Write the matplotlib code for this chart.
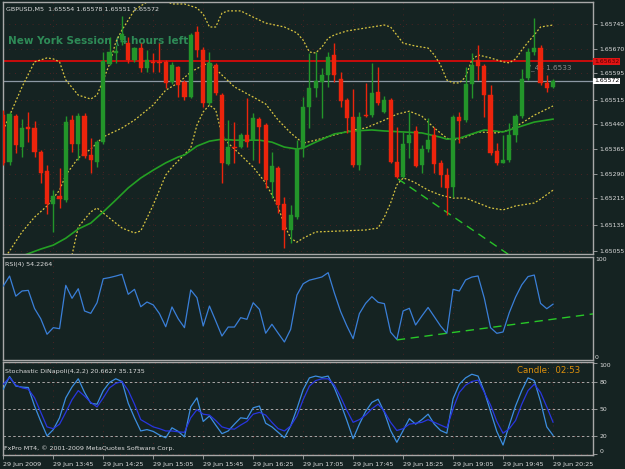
import matplotlib
matplotlib.use('Agg')
import matplotlib.pyplot as plt
import matplotlib.transforms as mtrans
import numpy as np

# ---------------- data (prices in points = 1e-5) ----------------
opens = [165468,165326,165465,165371,165432,165429,165356,165298,165198,165222,
         165210,165453,165380,165465,165347,165326,165386,165623,165657,165696,
         165687,165636,165672,165611,165630,165630,165630,165569,165614,165569,
         165523,165721,165666,165505,165620,165529,165319,165371,165371,165408,
         165392,165456,165438,165265,165307,165198,165119,165158,165368,165493,
         165550,165569,165590,165651,165578,165514,165462,165316,165468,165468,
         165538,165478,165514,165326,165280,165383,165420,165316,165365,165408,
         165323,165286,165250,165462,165453,165563,165636,165617,165529,165359,
         165323,165332,165408,165465,165581,165660,165672,165566,165554]
highs = [165484,165478,165471,165456,165478,165450,165362,165316,165240,165307,
         165465,165468,165474,165474,165398,165392,165660,165706,165681,165769,
         165706,165675,165687,165666,165657,165687,165636,165630,165617,165575,
         165718,165739,165675,165660,165627,165535,165453,165447,165414,165520,
         165474,165462,165444,165356,165313,165219,165195,165392,165523,165657,
         165660,165611,165660,165687,165599,165520,165547,165478,165566,165627,
         165614,165526,165520,165432,165417,165478,165435,165377,165459,165432,
         165332,165307,165468,165478,165614,165657,165681,165623,165560,165383,
         165408,165444,165471,165608,165672,165763,165681,165590,165578]
lows = [165316,165316,165353,165341,165386,165341,165262,165167,165113,165186,
        165204,165356,165332,165338,165292,165310,165380,165620,165627,165681,
        165627,165630,165599,165599,165599,165599,165550,165563,165523,165514,
        165520,165645,165493,165499,165529,165262,165316,165323,165368,165371,
        165332,165323,165247,165216,165170,165064,165079,165152,165341,165429,
        165523,165459,165554,165569,165493,165414,165310,165301,165462,165462,
        165499,165474,165323,165277,165277,165338,165310,165292,165356,165292,
        165250,165164,165219,165383,165447,165520,165575,165462,165347,165316,
        165323,165326,165386,165459,165575,165651,165560,165538,165551]
closes = [165323,165471,165377,165429,165426,165356,165292,165198,165222,165213,
          165447,165380,165465,165344,165332,165386,165633,165660,165663,165715,
          165636,165672,165611,165636,165627,165627,165566,165620,165560,165523,
          165712,165666,165505,165627,165535,165323,165371,165368,165408,165386,
          165459,165432,165271,165313,165195,165119,165164,165365,165493,165550,
          165572,165590,165645,165590,165511,165459,165316,165462,165465,165535,
          165505,165514,165326,165280,165380,165408,165313,165365,165392,165319,
          165286,165247,165462,165450,165563,165620,165617,165529,165353,165323,
          165332,165408,165465,165578,165660,165672,165566,165550,165572]

# Bollinger bands (read at bar positions)
ub_bar = [0,3,5,7,8,9,10,12,14,15,16,17,18,19,20,21,23,25,27,29,31,32,33,34,35,36,38,40,42,45,
          47,48,49,50,51,52,53,55,58,61,62,64,66,68,69,70,71,72,73,74,75,76,78,80,81,82,83,84,85,86,88]
ub = [165423,165554,165630,165642,165639,165630,165575,165529,165517,165529,165575,165623,165690,165727,
      165757,165788,165812,165827,165806,165806,165794,165775,165736,165736,165778,165785,165785,165766,
      165748,165736,165718,165696,165660,165657,165675,165702,165712,165724,165733,165742,165736,165687,
      165678,165672,165651,165620,165575,165566,165566,165584,165636,165651,165642,165630,165627,165639,
      165666,165690,165712,165736,165742]
mb_bar = [0,1,3,5,7,9,10,12,14,16,19,21,24,26,28,30,32,33,35,37,40,42,44,46,47,48,50,53,56,58,61,
          63,65,67,69,71,72,74,76,79,81,83,85,88]
mb = [165030,165055,165113,165158,165192,165240,165286,165338,165365,165402,165429,165453,165499,165544,
      165566,165599,165620,165627,165590,165554,165523,165502,165453,165414,165398,165383,165392,165408,
      165423,165429,165453,165471,165480,165465,165429,165398,165392,165401,165417,165414,165423,165444,
      165468,165496]
lb_bar = [11,12,14,15,17,19,21,22,24,26,27,30,31,32,33,34,35,36,38,40,42,44,45,46,47,48,50,54,58,60,
          61,62,63,64,65,66,68,70,72,74,76,78,80,82,85,86,88]
lb = [165043,165128,165174,165186,165155,165125,165110,165116,165195,165286,165310,165368,165438,165478,
      165499,165484,165408,165383,165347,165310,165262,165189,165134,165094,165082,165094,165113,165116,
      165119,165125,165158,165201,165256,165277,165271,165262,165240,165225,165216,165216,165201,165186,
      165180,165192,165201,165213,165240]
# moving average
ma_bar = [3,6,8,10,12,14,16,18,20,22,24,26,28,29,31,33,35,37,41,43,45,47,48,50,53,56,59,61,64,67,
          70,71,73,75,77,80,82,85,88]
ma = [165040,165061,165073,165094,165122,165140,165174,165210,165247,165277,165301,165323,165341,165347,
      165374,165389,165395,165392,165392,165386,165371,165365,165368,165386,165411,165420,165423,165420,
      165417,165414,165401,165395,165398,165411,165423,165417,165429,165447,165456]
# trendlines
tl_bar = [63.2, 81.0]
tl_price = [165274, 165043]
rsi_tl_bar = [63.0, 94.7]
rsi_tl_val = [19.5, 45.0]

rsi = [71.8,81.5,62,67,67.6,50,40,25,31.4,30.4,
       72.5,59.9,69.2,47.6,45.3,55.6,78.9,80,81.5,83.2,
       63.8,68.6,51.7,56.3,53.5,45,32.3,51.5,40,31.4,
       68,60.5,33,52.4,38,23.3,32,32,41.1,39.5,
       55.6,49.2,26,34.7,26,17.5,29.8,63,74,77.5,
       79,80.6,84.8,65,47,33,20.7,45,55,61.5,
       56,54.7,27,20,47.6,50.2,34,42.7,51,42,
       33,25.9,68.6,67,77.7,80.5,81.6,60,31.4,25.9,
       27.2,46,61,73,81,82.5,55,49.8,54.2]
stoch_k = [71.6,85.5,75,73.8,73.4,53,36,20,27,40,
           62,74,83,68,56,55,70,79,83,80,
           56,40,25.5,27,25,21,18,29,25,19,
           52,62,36,42,32,22.5,25.5,33,40,39,
           51,53,34,30,24,18,31,50,71,84,
           86,84.5,86,73,56,37,17,33,47,57,
           60.5,46,26,13,26,39,33,38,44,33,
           26,23,61,77,84,88,86,69,47,25,
           10,32,53,70,84,81,58,30,20.7]
stoch_d = [77,84.5,76,73,71.6,62,46,30,28,33,
           46,60,70,64,57,52,62,73,78,80,
           70,55,38,34,30,28,25.5,25.5,24.5,24,
           40,49,44,43,37,30,28,27.5,32,36,
           44,46,43,35,28,25.5,31,42,60,75,
           81,83,83,76,63,48,35,38,43,50,
           55,47,35,26,28,33,34,35,38,35,
           32,29,50,68,76,80,81.5,68,54,36,
           23,28,37,55,70,77,68,52,35.2]

price_ticks = [1.65745,1.65670,1.65595,1.65515,1.65440,1.65365,1.65290,1.65215,1.65135,1.65055]
time_tick_bars = [0,8,16,24,32,40,48,56,64,72,80,88]
time_labels = ['29 Jun 2009','29 Jun 13:45','29 Jun 14:25','29 Jun 15:05','29 Jun 15:45',
               '29 Jun 16:25','29 Jun 17:05','29 Jun 17:45','29 Jun 18:25','29 Jun 19:05',
               '29 Jun 19:45','29 Jun 20:25']
red_level = 1.65632
bid = 1.65572

P = 1e-5
o = np.array(opens)*P; h = np.array(highs)*P; l = np.array(lows)*P; c = np.array(closes)*P
idx = np.arange(len(o))

BG = '#152322'
FRAME = '#a8a8a8'
TXT = '#dcdcdc'
GREEN = '#23952a'
RED = '#ec240c'
YEL = '#d8c440'
FS = 4.6
YFS = 4.4

W, H = 625, 469
def box(lft, top, rgt, bot):
    return [lft/W, 1-bot/H, (rgt-lft)/W, (bot-top)/H]

fig = plt.figure(figsize=(6.25, 4.69), dpi=100, facecolor=BG)
ax = fig.add_axes(box(3, 2, 593, 254))
ax_r = fig.add_axes(box(3, 257, 593, 360), sharex=ax)
ax_s = fig.add_axes(box(3, 362, 593, 455), sharex=ax)

for a in (ax, ax_r, ax_s):
    a.set_facecolor(BG)
    for s in a.spines.values():
        s.set_color(FRAME); s.set_linewidth(1.0)
    a.yaxis.tick_right()
    a.tick_params(axis='y', colors=FRAME, labelcolor=TXT, labelsize=YFS, length=3, width=0.6, pad=1.5)
    a.tick_params(axis='x', colors=FRAME, labelcolor=TXT, labelsize=FS, length=3, width=0.6, pad=2)
    a.grid(True, color='#5c2424', linestyle=(0, (1, 6)), linewidth=0.6)
    a.set_axisbelow(True)

ax.set_xlim(-0.05, 94.4)
ax.set_ylim(1.65046, 1.65812)
ax.set_yticks(price_ticks)
ax.set_yticklabels(['%.5f' % v for v in price_ticks])

# ---------------- main chart ----------------
ax.text(0.008, 0.845, 'New York Session (4 hours left)', transform=ax.transAxes,
        color='#2e8b57', fontsize=7.5, fontweight='bold', va='center', ha='left', zorder=1)

ax.axhline(red_level, color='#c80c0c', lw=1.4, zorder=2)
ax.axhline(bid, color='#8c98a4', lw=0.9, zorder=2)

ax.plot(ub_bar, np.array(ub)*P, color=YEL, lw=0.9, ls=(0, (1.5, 1.5)), zorder=2)
ax.plot(mb_bar, np.array(mb)*P, color=YEL, lw=0.9, ls=(0, (1.5, 1.5)), zorder=2)
ax.plot(lb_bar, np.array(lb)*P, color=YEL, lw=0.9, ls=(0, (1.5, 1.5)), zorder=2)
ax.plot(ma_bar, np.array(ma)*P, color='#24a024', lw=1.2, zorder=2)
ax.plot(tl_bar, np.array(tl_price)*P, color='#28c028', lw=1.0, ls=(0, (6, 4)), zorder=2)

ax.text(83.7, 1.65614, 'V_43 1.6533', color='#8a8a8a', fontsize=5.2, va='center', ha='left', zorder=1.5)

up = c >= o
cols = np.where(up, GREEN, RED)
ax.vlines(idx, l, h, colors=cols, lw=1.0, zorder=3)
body_lo = np.minimum(o, c)
body_h = np.maximum(np.abs(c - o), 2e-5)
ax.bar(idx, body_h, bottom=body_lo, width=0.66, color=cols, edgecolor=cols, lw=0.3, zorder=4)

ax.text(0.005, 0.972, 'GBPUSD,M5  1.65554 1.65578 1.65551 1.65572', transform=ax.transAxes,
        color=TXT, fontsize=FS, va='center', ha='left', zorder=6)

btr = mtrans.blended_transform_factory(ax.transAxes, ax.transData)
ax.text(1.002, red_level, '1.65632', transform=btr, fontsize=YFS, color='#5a0000', va='center', ha='left',
        bbox=dict(boxstyle='square,pad=0.15', fc='#e01414', ec='none'), zorder=7, clip_on=False)
ax.text(1.002, bid, '1.65572', transform=btr, fontsize=YFS, color='black', va='center', ha='left',
        bbox=dict(boxstyle='square,pad=0.15', fc='white', ec='none'), zorder=7, clip_on=False)

# ---------------- RSI ----------------
ax_r.set_ylim(0, 100)
ax_r.set_yticks([0, 100])
ax_r.set_yticklabels(['0', '100'])
ax_r.tick_params(axis='y', length=0)
for lab, va in zip(ax_r.get_yticklabels(), ['bottom', 'top']):
    lab.set_va(va)
ax_r.plot(idx, rsi, color='#3a7fd8', lw=0.9, zorder=3)
ax_r.plot(rsi_tl_bar, rsi_tl_val, color='#28c828', lw=1.0, ls=(0, (6, 4)), zorder=3)
ax_r.text(0.004, 0.93, 'RSI(4) 54.2264', transform=ax_r.transAxes, color=TXT, fontsize=FS, va='center')

# ---------------- Stochastic ----------------
ax_s.set_ylim(-1, 101.5)
ax_s.set_yticks([0, 20, 50, 80, 100])
ax_s.set_yticklabels(['0', '20', '50', '80', '100'])
labs = ax_s.get_yticklabels()
labs[0].set_va('bottom'); labs[-1].set_va('top')
for lv in (20, 50, 80):
    ax_s.axhline(lv, color='#a8a8a8', lw=0.7, ls=(0, (2.5, 2.5)), zorder=2)
ax_s.plot(idx, stoch_k, color='#3c8ee0', lw=0.9, zorder=3)
ax_s.plot(idx, stoch_d, color='#2836e0', lw=0.9, zorder=3)
ax_s.text(0.004, 0.9, 'Stochastic DiNapoli(4,2,2) 20.6627 35.1735', transform=ax_s.transAxes,
          color=TXT, fontsize=FS, va='center')
fig.text(517/W, 1-370/H, 'Candle:  02:53', color='#dc900c', fontsize=6.2, va='center', ha='left')
fig.text(4/W, 1-448/H, 'FxPro MT4, \u00a9 2001-2009 MetaQuotes Software Corp.', color=TXT,
         fontsize=FS, va='center', ha='left', zorder=8)

ax_s.set_xticks(time_tick_bars)
ax_s.set_xticklabels(time_labels, ha='left')
ax.tick_params(axis='x', labelbottom=False, length=0)
ax_r.tick_params(axis='x', labelbottom=False, length=0)

fig.savefig('out.png', dpi=100, facecolor=BG)
